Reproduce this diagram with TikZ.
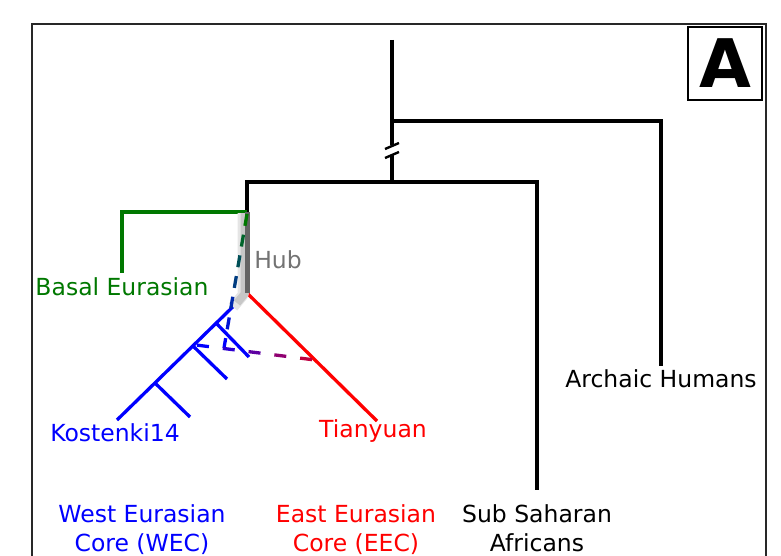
\documentclass[tikz,border=0pt]{standalone}
\usepackage{fontspec}
\setmainfont{DejaVu Sans}
\usetikzlibrary{calc}
\definecolor{dgreen}{RGB}{0,120,0}
\definecolor{hubgray}{RGB}{115,115,115}
\definecolor{hubcore}{RGB}{100,100,100}
\definecolor{framecol}{RGB}{40,40,40}
\tikzset{
  tree/.style={line width=3.3pt},
  lbl/.style={font=\fontsize{23.5}{28}\selectfont, anchor=base, inner sep=0pt},
  dashseg/.style={line width=3.3pt},
}
\begin{document}
\begin{tikzpicture}[x=1pt,y=-1pt]
\useasboundingbox (0,0) rectangle (781,556);
\clip (0,0) rectangle (781,556);
% frame
\draw[line width=2pt, framecol] (32,24) rectangle (766,600);
% letter box
\node[draw, line width=2.4pt, minimum width=74pt, minimum height=73pt, inner sep=0pt,
      font=\fontsize{67}{67}\bfseries] (abox) at (725,63.5) {A};

% coordinates
\coordinate (rootTop) at (392,40);
\coordinate (archJ) at (392,121);
\coordinate (archR) at (661,121);
\coordinate (archEnd) at (661,366);
\coordinate (brkA) at (392,145);
\coordinate (brkB) at (392,155);
\coordinate (mainJ) at (392,182);
\coordinate (hLeft) at (247,182);
\coordinate (hRight) at (537,182);
\coordinate (ssaEnd) at (537,488);
\coordinate (basJ) at (247,212);
\coordinate (basL) at (122,212);
\coordinate (basEnd) at (122,273);
\coordinate (hub) at (247,293);
\coordinate (wecEnd) at (117,420);
\coordinate (eecEnd) at (377,421);
\coordinate (t1a) at (216,323);
\coordinate (t1b) at (249,357);
\coordinate (t2a) at (193,346);
\coordinate (t2b) at (227,379);
\coordinate (t3a) at (155,383);
\coordinate (t3b) at (190,417);

% black tree
\draw[tree] (rootTop) -- (brkA);
\draw[tree] (brkB) -- (mainJ);
\draw[tree] (archJ) -- (archR) -- (archEnd);
\draw[line width=2.4pt] (385,149) -- (399,143);
\draw[line width=2.4pt] (385,158) -- (399,152);
\draw[tree, line cap=rect] (hLeft) -- (hRight) -- (ssaEnd);
\draw[tree] (mainJ) -- (hLeft) -- (basJ);
% basal
\draw[tree, dgreen] (basJ) -- (basL) -- (basEnd);
% WEC
\draw[tree, blue] (hub) -- (wecEnd);
\draw[tree, blue] (t1a) -- (t1b);
\draw[tree, blue] (t2a) -- (t2b);
\draw[tree, blue] (t3a) -- (t3b);
% EEC
\draw[tree, red] (hub) -- (eecEnd);

% hub with shadow
\draw[line width=11pt, black!10, line join=round] (243,213) -- (243,295) -- (233,307);
\draw[line width=8pt, black!22, line join=round] (244.5,213) -- (244.5,294) -- (237,303);
\draw[line width=5pt, hubcore] (247,212) -- (hub);

% gradient dashed: basal -> WEC
\coordinate (g1) at (247,214);
\coordinate (g2) at (224,348);
\foreach \i in {0,...,6}{
  \pgfmathsetmacro\ta{(\i*21)/136}
  \pgfmathsetmacro\tb{min(1,(\i*21+12)/136)}
  \pgfmathtruncatemacro\p{100-\i*100/6}
  \draw[dashseg, dgreen!\p!blue] ($(g1)!\ta!(g2)$) -- ($(g1)!\tb!(g2)$);
}
% gradient dashed: EEC -> WEC
\coordinate (p1) at (315,360);
\coordinate (p2) at (196,345);
\foreach \i in {0,...,4}{
  \pgfmathsetmacro\ta{(3+\i*26)/120}
  \pgfmathsetmacro\tb{min(1,(15+\i*26)/120)}
  \pgfmathtruncatemacro\p{75-\i*75/4}
  \draw[dashseg, red!\p!blue] ($(p1)!\ta!(p2)$) -- ($(p1)!\tb!(p2)$);
}

% labels
\node[lbl, text=hubgray] (lhub) at (278,268) {Hub};
\node[lbl, text=dgreen] (lbas) at (122,295) {Basal Eurasian};
\node[lbl, text=blue] (lkos) at (115,441) {Kostenki14};
\node[lbl, text=red] (ltia) at (373,437) {Tianyuan};
\node[lbl] (larc) at (661,387) {Archaic Humans};
\node[lbl, text=blue] (lwec1) at (142,522) {West Eurasian};
\node[lbl, text=blue] (lwec2) at (142,551) {Core (WEC)};
\node[lbl, text=red] (leec1) at (356,522) {East Eurasian};
\node[lbl, text=red] (leec2) at (356,551) {Core (EEC)};
\node[lbl] (lssa1) at (537,522) {Sub Saharan};
\node[lbl] (lssa2) at (537,551) {Africans};
\end{tikzpicture}
\end{document}
